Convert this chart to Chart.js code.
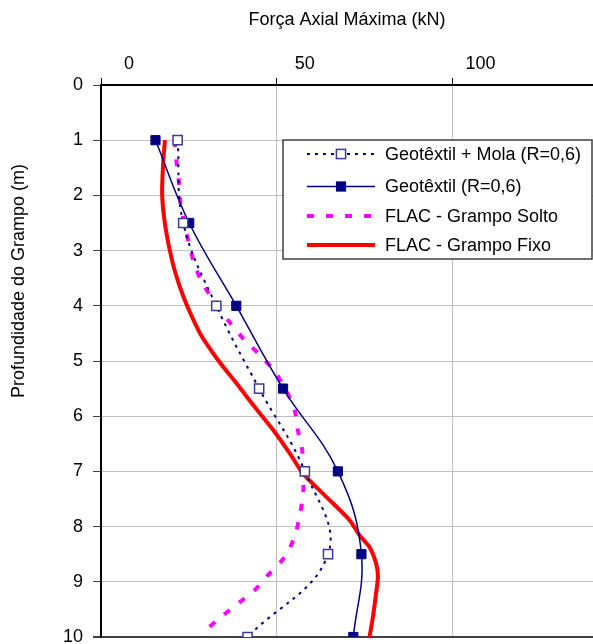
<!DOCTYPE html>
<html>
<head>
<meta charset="utf-8">
<script src="https://cdn.jsdelivr.net/npm/chart.js@4"></script>
<style>
    body { margin: 0; background: #fff; }
    #wrap { width: 593px; height: 644px; }
</style>
</head>
<body>
<div id="wrap"><canvas id="axialChart"></canvas></div>
<script>
// data
const markedDepths = [1, 2.5, 4, 5.5, 7, 8.5, 10];
const geoMolaForce = [21.8, 23.4, 32.8, 45.0, 58.0, 64.6, 41.7];
const geoForce = [15.5, 25.1, 38.5, 51.8, 67.4, 74.1, 71.8];

const soltoDepths = [1.0, 1.4, 1.77, 2.13, 2.5, 2.89, 3.26, 3.62, 4.0, 4.34, 4.62, 4.89, 5.19, 5.55, 5.89, 6.28, 6.64, 7.0, 7.4, 7.82, 8.18, 8.55, 8.88, 9.18, 9.39, 9.63, 9.9];
const soltoForce = [21.0, 21.5, 22.2, 22.6, 23.7, 25.1, 26.7, 29.1, 33.3, 37.1, 40.9, 45.2, 49.4, 52.8, 55.1, 56.1, 57.3, 57.6, 57.5, 56.5, 55.1, 52.3, 47.5, 43.3, 39.0, 34.3, 29.3];

const fixoDepths = [1.0, 1.4, 2.0, 2.6, 3.2, 3.65, 4.0, 4.5, 5.0, 5.4, 5.83, 6.25, 6.7, 7.04, 7.46, 7.88, 8.16, 8.37, 8.67, 8.9, 9.2, 9.63, 10];
const fixoForce = [18.2, 17.7, 17.4, 18.4, 20.3, 22.4, 24.5, 28.2, 33.5, 38.5, 43.7, 49.0, 54.0, 57.5, 64.1, 70.7, 73.6, 76.4, 78.3, 78.8, 78.3, 77.4, 76.4];

const seriesNames = ['Geotêxtil + Mola (R=0,6)', 'Geotêxtil (R=0,6)', 'FLAC - Grampo Solto', 'FLAC - Grampo Fixo'];
const xTicks = [0, 50, 100];
const yTicks = [0, 1, 2, 3, 4, 5, 6, 7, 8, 9, 10];
const xTitle = 'Força Axial Máxima (kN)';
const yTitle = 'Profundidade do Grampo (m)';

const FONT = 'Liberation Sans, Arial, sans-serif';

function pairs(xs, ys) {
    return ys.map((y, i) => ({ x: xs[i], y: y }));
}

// y title + legend box drawn inside plot
const extras = {
    id: 'extras',
    afterDraw(chart) {
        const ctx = chart.ctx;
        const area = chart.chartArea;
        ctx.save();

        // y axis title
        ctx.font = '18px ' + FONT;
        ctx.fillStyle = '#000';
        ctx.textAlign = 'center';
        ctx.textBaseline = 'middle';
        ctx.translate(19, 281);
        ctx.rotate(-Math.PI / 2);
        ctx.fillText(yTitle, 0, 0);
        ctx.restore();

        // legend
        ctx.save();
        const bx = area.left + 182, by = area.top + 55;
        const bw = 592 - bx, bh = 119;
        ctx.fillStyle = '#fff';
        ctx.fillRect(bx, by, bw, bh);
        ctx.strokeStyle = '#404040';
        ctx.lineWidth = 1.5;
        ctx.strokeRect(bx, by, bw, bh);

        const rows = [14, 46.5, 76, 105];
        const lx0 = bx + 24, lx1 = bx + 92, mx = bx + 58;
        ctx.font = '18px ' + FONT;
        ctx.textAlign = 'left';
        ctx.textBaseline = 'middle';
        chart.data.datasets.forEach((ds, i) => {
            const y = by + rows[i];
            ctx.save();
            ctx.strokeStyle = ds.borderColor;
            ctx.lineWidth = ds.borderWidth;
            ctx.setLineDash(ds.borderDash || []);
            ctx.beginPath();
            ctx.moveTo(lx0, y);
            ctx.lineTo(lx1, y);
            ctx.stroke();
            ctx.restore();
            if (ds.pointRadius > 0) {
                const s = ds.pointRadius * Math.SQRT2 / 2;
                ctx.fillStyle = ds.pointBackgroundColor;
                ctx.fillRect(mx - s, y - s, 2 * s, 2 * s);
                ctx.strokeStyle = ds.pointBorderColor;
                ctx.lineWidth = ds.pointBorderWidth;
                ctx.strokeRect(mx - s, y - s, 2 * s, 2 * s);
            }
            ctx.fillStyle = '#000';
            ctx.fillText(ds.label, bx + 102, y + 1);
        });
        ctx.restore();
    }
};

new Chart(document.getElementById('axialChart'), {
    type: 'scatter',
    data: {
        datasets: [
            {
                label: seriesNames[0],
                data: pairs(geoMolaForce, markedDepths),
                showLine: true,
                borderColor: '#000080',
                borderWidth: 2,
                borderDash: [3, 5],
                tension: 0.4,
                pointStyle: 'rect',
                pointRadius: 6.5,
                pointBackgroundColor: '#ffffff',
                pointBorderColor: '#3a3a9a',
                pointBorderWidth: 1.5
            },
            {
                label: seriesNames[1],
                data: pairs(geoForce, markedDepths),
                showLine: true,
                borderColor: '#000080',
                borderWidth: 1.5,
                tension: 0.4,
                pointStyle: 'rect',
                pointRadius: 6.5,
                pointBackgroundColor: '#000080',
                pointBorderColor: '#000080',
                pointBorderWidth: 1
            },
            {
                label: seriesNames[2],
                data: pairs(soltoForce, soltoDepths),
                showLine: true,
                borderColor: '#ff00ff',
                borderWidth: 4,
                borderDash: [7, 12],
                tension: 0.3,
                pointRadius: 0
            },
            {
                label: seriesNames[3],
                data: pairs(fixoForce, fixoDepths),
                showLine: true,
                borderColor: '#ff0000',
                borderWidth: 4,
                tension: 0.25,
                pointRadius: 0
            }
        ]
    },
    options: {
        responsive: true,
        maintainAspectRatio: false,
        animation: false,
        layout: { autoPadding: false, padding: { top: 0, right: 0, bottom: 7, left: 0 } },
        plugins: {
            legend: { display: false },
            tooltip: { enabled: false }
        },
        scales: {
            x: {
                type: 'linear',
                position: 'top',
                min: 0,
                max: 140,
                afterBuildTicks: scale => { scale.ticks = xTicks.map(v => ({ value: v })); },
                afterFit: scale => {
                    scale.height = 85;
                    scale.paddingLeft = 0;
                    scale.paddingRight = 0;
                },
                ticks: {
                    font: { family: FONT, size: 18 },
                    color: '#000',
                    labelOffset: 28,
                    padding: 3,
                    maxRotation: 0
                },
                grid: {
                    color: c => c.tick && c.tick.value === 0 ? '#000' : '#c0c0c0',
                    tickColor: '#000',
                    tickLength: 7,
                    lineWidth: 1
                },
                border: { display: true, color: '#000', width: 2 },
                title: {
                    display: true,
                    text: xTitle,
                    font: { family: FONT, size: 18 },
                    color: '#000',
                    padding: { top: 9, bottom: 0 }
                }
            },
            y: {
                type: 'linear',
                position: 'left',
                reverse: true,
                min: 0,
                max: 10,
                afterBuildTicks: scale => { scale.ticks = yTicks.map(v => ({ value: v })); },
                afterFit: scale => {
                    scale.width = 101;
                    scale.paddingTop = 0;
                    scale.paddingBottom = 0;
                },
                ticks: {
                    font: { family: FONT, size: 18 },
                    color: '#000',
                    padding: 10
                },
                grid: {
                    color: c => {
                        const v = c.tick ? c.tick.value : null;
                        if (v === 0) return '#000';
                        if (v === 10) return '#404040';
                        return '#c0c0c0';
                    },
                    lineWidth: c => (c.tick && c.tick.value === 10) ? 2 : 1,
                    tickColor: '#404040',
                    tickLength: 8
                },
                border: { display: true, color: '#000', width: 2 }
            }
        }
    },
    plugins: [extras]
});
</script>
</body>
</html>
